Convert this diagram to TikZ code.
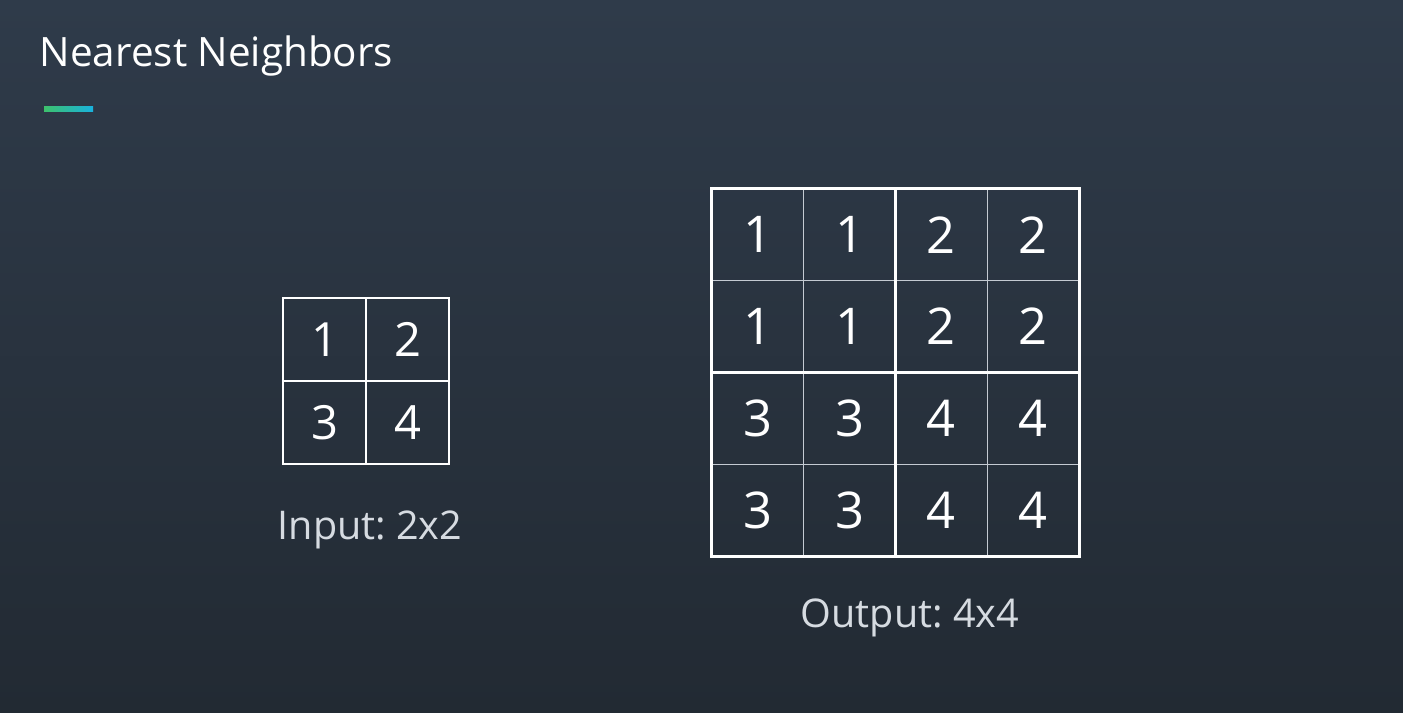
\documentclass[tikz,border=0pt]{standalone}
\usepackage{fontspec}
\setmainfont{Open Sans}
\usepackage{tikz}
\frenchspacing
\definecolor{slidetop}{HTML}{2F3B4A}
\definecolor{slidebottom}{HTML}{222A33}
\definecolor{barleft}{HTML}{3DC16C}
\definecolor{barright}{HTML}{19B2DE}
\definecolor{gridthin}{HTML}{C4CAD2}
\definecolor{captiongrey}{HTML}{D6DBE1}

\begin{document}
\begin{tikzpicture}[x=0.01cm, y=-0.01cm,
    title/.style={anchor=base west, text=white, inner sep=0pt, font=\fontsize{11.5}{14}\selectfont},
    caption/.style={anchor=base, text=captiongrey, inner sep=0pt, font=\fontsize{11.25}{13}\selectfont},
    incell/.style={rectangle, draw=white, line width=0.45pt, minimum size=0.83cm, inner sep=0pt, text=white, font=\fontsize{13.4}{15}\selectfont},
    outcell/.style={rectangle, draw=gridthin, line width=0.3pt, minimum size=0.9175cm, inner sep=0pt, text=white, font=\fontsize{14.4}{16}\selectfont},
    blockline/.style={draw=white, line width=0.75pt}
]

% background and title
\shade[top color=slidetop, bottom color=slidebottom] (0,0) rectangle (1403,712);
\useasboundingbox (0,0) rectangle (1403,712);
\node[title] (heading) at (39,67) {Nearest Neighbors};
\shade[left color=barleft, right color=barright] (44,106) rectangle (93,111);

% input 2x2
\foreach \r/\c/\v in {1/1/1, 1/2/2, 2/1/3, 2/2/4}
    \node[incell] (in-\r-\c) at ({324.5+83*(\c-1)}, {339.5+83*(\r-1)}) {\v};
\node[caption] (incap) at (370,539) {Input: 2x2};

% output 4x4
\foreach \r/\c/\v in {1/1/1, 1/2/1, 1/3/2, 1/4/2,
                      2/1/1, 2/2/1, 2/3/2, 2/4/2,
                      3/1/3, 3/2/3, 3/3/4, 3/4/4,
                      4/1/3, 4/2/3, 4/3/4, 4/4/4}
    \node[outcell] (out-\r-\c) at ({757.9+91.75*(\c-1)}, {234.9+91.75*(\r-1)}) {\v};
\draw[blockline] (out-1-1.north west) rectangle (out-2-2.south east);
\draw[blockline] (out-1-3.north west) rectangle (out-2-4.south east);
\draw[blockline] (out-3-1.north west) rectangle (out-4-2.south east);
\draw[blockline] (out-3-3.north west) rectangle (out-4-4.south east);
\node[caption] (outcap) at (910,627) {Output: 4x4};

\end{tikzpicture}
\end{document}
